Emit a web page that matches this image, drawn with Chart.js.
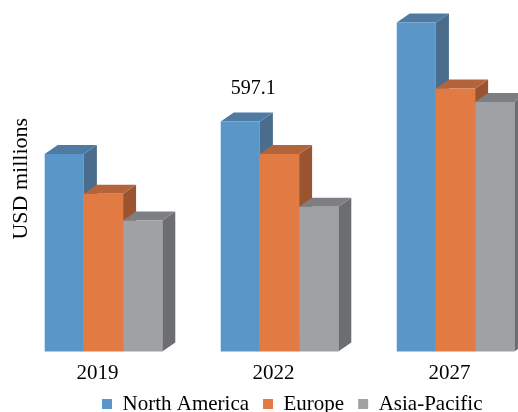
<!DOCTYPE html>
<html>
<head>
<meta charset="utf-8">
<script src="https://cdn.jsdelivr.net/npm/chart.js@4"></script>
<style>
  html, body { margin: 0; padding: 0; background: #ffffff; }
  #wrap { width: 518px; height: 412px; position: relative; }
</style>
</head>
<body>
<div id="wrap"><canvas id="c" width="518" height="412"></canvas></div>
<script>
const categories = ['2019', '2022', '2027'];
const seriesNames = ['North America', 'Europe', 'Asia-Pacific'];
const northAmerica = [512.6, 597.1, 854.2];
const europe = [409.6, 512.6, 682.6];
const asiaPacific = [340.0, 375.6, 647.6];
const labelledValue = { series: 0, index: 1 }; // "597.1"

const frontColors = ['#5B96C8', '#E27B43', '#A0A1A4'];
const topColors = ['#4F7BA3', '#B4643A', '#7E7F82'];
const sideColors = ['#4A6D8D', '#9A5530', '#6D6E71'];
const DX = 13, DY = 9;
const FONT = '"Liberation Serif", "Times New Roman", serif';

const seriesValues = [northAmerica, europe, asiaPacific];

const depthPlugin = {
  id: 'depth3d',
  beforeDatasetsDraw(chart) {
    const ctx = chart.ctx;
    ctx.save();
    chart.data.datasets.forEach((ds, di) => {
      const meta = chart.getDatasetMeta(di);
      meta.data.forEach((el) => {
        const w = el.width;
        const left = el.x - w / 2, right = el.x + w / 2;
        const top = el.y, base = el.base;
        ctx.fillStyle = sideColors[di];
        ctx.beginPath();
        ctx.moveTo(right, top);
        ctx.lineTo(right + DX, top - DY);
        ctx.lineTo(right + DX, base - DY);
        ctx.lineTo(right, base);
        ctx.closePath();
        ctx.fill();
        ctx.fillStyle = topColors[di];
        ctx.beginPath();
        ctx.moveTo(left, top);
        ctx.lineTo(left + DX, top - DY);
        ctx.lineTo(right + DX, top - DY);
        ctx.lineTo(right, top);
        ctx.closePath();
        ctx.fill();
      });
    });
    ctx.restore();
  },
  afterDatasetsDraw(chart) {
    const ctx = chart.ctx;
    const el = chart.getDatasetMeta(labelledValue.series).data[labelledValue.index];
    const v = seriesValues[labelledValue.series][labelledValue.index];
    ctx.save();
    ctx.fillStyle = '#000000';
    ctx.font = '20px ' + FONT;
    ctx.textAlign = 'center';
    ctx.textBaseline = 'middle';
    ctx.fillText(v.toFixed(1), el.x + DX, el.y - 33);
    ctx.restore();
  }
};

const datasets = seriesNames.map((name, i) => ({
  label: name,
  data: seriesValues[i].map((v, k) => ({ x: k, y: v })),
  backgroundColor: frontColors[i],
  borderWidth: 0,
  categoryPercentage: 0.668,
  barPercentage: 1.0,
  clip: false
}));

new Chart(document.getElementById('c'), {
  type: 'bar',
  data: { datasets },
  plugins: [depthPlugin],
  options: {
    responsive: false,
    animation: false,
    layout: { padding: { top: 6, bottom: -12.5, left: 0, right: 0 } },
    plugins: {
      legend: {
        position: 'bottom',
        align: 'start',
        fullSize: false,
        labels: {
          boxWidth: 10,
          boxHeight: 10,
          padding: 14,
          color: '#000000',
          font: { family: FONT, size: 21 }
        }
      },
      tooltip: { enabled: false }
    },
    scales: {
      x: {
        type: 'linear',
        offset: false,
        min: -0.088,
        max: 2.355,
        grid: { display: false, drawTicks: false },
        border: { display: false },
        afterBuildTicks: (s) => { s.ticks = categories.map((c, i) => ({ value: i })); },
        afterFit: (s) => {
          s.height = 28;
          s._computeLabelArea = function () { return undefined; };
        },
        ticks: {
          padding: 8.9,
          labelOffset: -6,
          color: '#000000',
          font: { family: FONT, size: 21 },
          maxRotation: 0,
          autoSkip: false,
          callback: (v) => categories[v]
        }
      },
      y: {
        min: 0,
        max: 897,
        grid: { display: false, drawTicks: false },
        border: { display: false },
        ticks: { display: false },
        afterFit: (s) => { s.width = 88; },
        title: {
          display: true,
          text: 'USD millions',
          color: '#000000',
          font: { family: FONT, size: 22 },
          padding: { top: 8, bottom: 0 }
        }
      }
    }
  }
});
</script>
</body>
</html>
